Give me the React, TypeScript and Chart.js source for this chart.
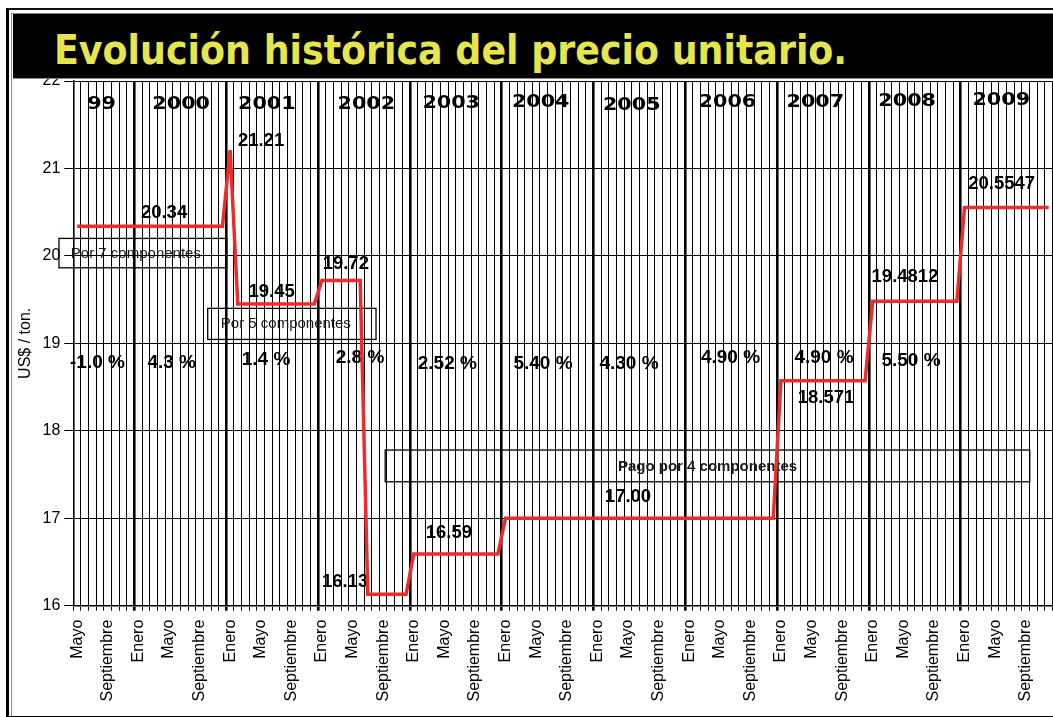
import React, { useEffect, useRef } from 'react';
import { Chart, registerables } from 'chart.js';

Chart.register(...registerables);

// ---- categories (monthly, Mayo 1999 .. Diciembre 2009) ----
const monthNames = ['Enero', 'Febrero', 'Marzo', 'Abril', 'Mayo', 'Junio', 'Julio', 'Agosto', 'Septiembre', 'Octubre', 'Noviembre', 'Diciembre'];
const years = [1999, 2000, 2001, 2002, 2003, 2004, 2005, 2006, 2007, 2008, 2009];
const firstMonthOfFirstYear = 4; // Mayo
const shownMonthLabels = ['Enero', 'Mayo', 'Septiembre'];

// ---- unit price (US$ / ton.) per month ----
const precio1999 = [20.34, 20.34, 20.34, 20.34, 20.34, 20.34, 20.34, 20.34];
const precio2000 = [20.34, 20.34, 20.34, 20.34, 20.34, 20.34, 20.34, 20.34, 20.34, 20.34, 20.34, 20.34];
const precio2001 = [21.21, 19.45, 19.45, 19.45, 19.45, 19.45, 19.45, 19.45, 19.45, 19.45, 19.45, 19.45];
const precio2002 = [19.72, 19.72, 19.72, 19.72, 19.72, 19.72, 16.13, 16.13, 16.13, 16.13, 16.13, 16.13];
const precio2003 = [16.59, 16.59, 16.59, 16.59, 16.59, 16.59, 16.59, 16.59, 16.59, 16.59, 16.59, 16.59];
const precio2004 = [17.0, 17.0, 17.0, 17.0, 17.0, 17.0, 17.0, 17.0, 17.0, 17.0, 17.0, 17.0];
const precio2005 = [17.0, 17.0, 17.0, 17.0, 17.0, 17.0, 17.0, 17.0, 17.0, 17.0, 17.0, 17.0];
const precio2006 = [17.0, 17.0, 17.0, 17.0, 17.0, 17.0, 17.0, 17.0, 17.0, 17.0, 17.0, 17.0];
const precio2007 = [18.571, 18.571, 18.571, 18.571, 18.571, 18.571, 18.571, 18.571, 18.571, 18.571, 18.571, 18.571];
const precio2008 = [19.4812, 19.4812, 19.4812, 19.4812, 19.4812, 19.4812, 19.4812, 19.4812, 19.4812, 19.4812, 19.4812, 19.4812];
const precio2009 = [20.5547, 20.5547, 20.5547, 20.5547, 20.5547, 20.5547, 20.5547, 20.5547, 20.5547, 20.5547, 20.5547, 20.5547];

// ---- y axis ----
const yMin = 16;
const yMax = 22;
const yStep = 1;
const yTitle = 'US$ / ton.';
const chartTitle = 'Evolución histórica del precio unitario.';

// ---- annotations (anchored in month index / price units) ----
const yearLabels = ['99', '2000', '2001', '2002', '2003', '2004', '2005', '2006', '2007', '2008', '2009'];
const yearLabelX = [3.2, 13.6, 24.8, 37.8, 48.9, 60.6, 72.5, 85.0, 96.5, 108.5, 120.8];
const yearLabelY = [21.73, 21.73, 21.73, 21.73, 21.74, 21.76, 21.72, 21.76, 21.76, 21.77, 21.78];

const rateLabels = ['-1.0 %', '4.3 %', '1.4 %', '2.8 %', '2.52 %', '5.40 %', '4.30 %', '4.90 %', '4.90 %', '5.50 %'];
const rateLabelX = [2.66, 12.36, 24.69, 36.98, 48.39, 60.9, 72.14, 85.41, 97.63, 109.0];
const rateLabelY = [18.78, 18.78, 18.81, 18.83, 18.77, 18.77, 18.77, 18.83, 18.83, 18.8];

const priceLabels = ['20.34', '21.21', '19.45', '19.72', '16.13', '16.59', '17.00', '18.571', '19.4812', '20.5547'];
const priceLabelX = [11.36, 24.04, 25.43, 35.12, 35.02, 48.59, 72.01, 97.89, 108.22, 120.86];
const priceLabelY = [20.486, 21.316, 19.589, 19.906, 16.274, 16.834, 17.246, 18.371, 19.761, 20.82];

const boxLabels = ['Por 7 componentes', 'Por 5 componentes', 'Pago por 4 componentes'];
const boxStartX = [-2.37, 17.07, 40.27];
const boxEndX = [19.55, 39.07, 124.53];
const boxTopY = [20.2, 19.4, 17.78];
const boxBottomY = [19.864, 19.045, 17.417];
const boxTextX = [7.68, 27.28, 82.4];
const boxTextY = [20.028, 19.22, 17.589];
const boxTextBold = [false, false, true];

// ---- tables built from the arrays ----
const categories: string[] = [];
years.forEach((yr, yi) => {
  monthNames.forEach((m, mi) => {
    if (yi === 0 && mi < firstMonthOfFirstYear) return;
    categories.push(m + ' ' + yr);
  });
});
const prices = [
  ...precio1999, ...precio2000, ...precio2001, ...precio2002, ...precio2003, ...precio2004,
  ...precio2005, ...precio2006, ...precio2007, ...precio2008, ...precio2009,
];

const FONT = "'Liberation Sans', Arial, sans-serif";

const annotationsPlugin = {
  id: 'annotations',
  beforeDatasetsDraw(chart: any) {
    const { ctx } = chart;
    const x = chart.scales.x;
    const y = chart.scales.y;
    ctx.save();
    ctx.fillStyle = '#000';
    ctx.textAlign = 'center';
    ctx.textBaseline = 'middle';

    // boxes
    ctx.strokeStyle = '#000';
    ctx.lineWidth = 1.3;
    boxLabels.forEach((t, i) => {
      const l = x.getPixelForValue(boxStartX[i]);
      const r = x.getPixelForValue(boxEndX[i]);
      const tp = y.getPixelForValue(boxTopY[i]);
      const b = y.getPixelForValue(boxBottomY[i]);
      ctx.strokeRect(l, tp, r - l, b - tp);
      ctx.font = (boxTextBold[i] ? 'bold 15px ' : '15px ') + FONT;
      ctx.fillStyle = '#1a1a1a';
      ctx.fillText(t, x.getPixelForValue(boxTextX[i]), y.getPixelForValue(boxTextY[i]));
    });

    // year labels (wide face)
    ctx.fillStyle = '#000';
    ctx.font = "bold 18px 'DejaVu Sans', sans-serif";
    yearLabels.forEach((t, i) => {
      ctx.save();
      ctx.translate(x.getPixelForValue(yearLabelX[i]), y.getPixelForValue(yearLabelY[i]));
      ctx.scale(1.15, 1);
      ctx.fillText(t, 0, 0);
      ctx.restore();
    });

    // rate labels
    ctx.font = 'bold 19px ' + FONT;
    rateLabels.forEach((t, i) => {
      ctx.fillText(t, x.getPixelForValue(rateLabelX[i]), y.getPixelForValue(rateLabelY[i]));
    });

    // price labels
    ctx.font = 'bold 18.5px ' + FONT;
    priceLabels.forEach((t, i) => {
      ctx.fillText(t, x.getPixelForValue(priceLabelX[i]), y.getPixelForValue(priceLabelY[i]));
    });
    ctx.restore();
  },
};

export default function App() {
  const canvasRef = useRef<HTMLCanvasElement | null>(null);

  useEffect(() => {
    const canvas = canvasRef.current;
    if (!canvas) return;
    const isYearStart = (i: number | undefined) =>
      typeof i === 'number' && i > 0 && categories[i] && categories[i].startsWith('Enero');

    const chart = new Chart(canvas, {
      type: 'line',
      data: {
        labels: categories,
        datasets: [
          {
            data: prices,
            borderColor: '#ee2b2b',
            borderWidth: 3.5,
            pointRadius: 0,
            tension: 0,
            fill: false,
          },
        ],
      },
      options: {
        animation: false,
        responsive: false,
        maintainAspectRatio: false,
        devicePixelRatio: 1,
        layout: { padding: { left: 0, top: 81, right: 0.5, bottom: 0 } },
        plugins: {
          legend: { display: false },
          tooltip: { enabled: false },
          title: { display: false },
        },
        scales: {
          x: {
            type: 'category',
            offset: true,
            grid: {
              offset: true,
              color: '#000',
              lineWidth: (c: any) => (isYearStart(c.index) ? 2.6 : 1),
              tickLength: 5,
            },
            border: { display: true, color: '#000', width: 1.6 },
            ticks: {
              autoSkip: false,
              minRotation: 90,
              maxRotation: 90,
              padding: 9,
              color: '#000',
              font: { family: FONT, size: 16 },
              callback: (_v: any, i: number) => {
                const name = categories[i].split(' ')[0];
                return shownMonthLabels.includes(name) ? name : '';
              },
            },
            afterFit: (s: any) => {
              s.height = 717 - 605.7;
              s.paddingLeft = 0;
              s.paddingRight = 0;
            },
          },
          y: {
            min: yMin,
            max: yMax,
            ticks: {
              stepSize: yStep,
              color: '#000',
              padding: 4,
              font: { family: FONT, size: 16 },
            },
            grid: { color: '#000', lineWidth: 1, tickLength: 9 },
            border: { display: true, color: '#000', width: 1.6 },
            title: {
              display: true,
              text: yTitle,
              color: '#000',
              font: { family: FONT, size: 16 },
              padding: { top: 16, bottom: 0 },
            },
            afterFit: (s: any) => {
              s.width = 73.3;
              s.paddingTop = 0;
              s.paddingBottom = 0;
            },
          },
        },
      } as any,
      plugins: [annotationsPlugin],
    });
    return () => chart.destroy();
  }, []);

  return (
    <div
      style={{
        position: 'absolute',
        left: 0,
        top: 0,
        width: 1053,
        height: 717,
        background: '#fff',
        overflow: 'hidden',
      }}
    >
      <canvas
        ref={canvasRef}
        width={1053}
        height={717}
        style={{ position: 'absolute', left: 0, top: 0, width: 1053, height: 717 }}
      />
      {/* outer frame */}
      <div
        style={{
          position: 'absolute',
          left: 6,
          top: 8,
          width: 1100,
          height: 706,
          borderLeft: '3px solid #000',
          borderTop: '2px solid #111',
          borderBottom: '2px solid #000',
          pointerEvents: 'none',
        }}
      />
      {/* inner thin frame */}
      <div
        style={{
          position: 'absolute',
          left: 11,
          top: 12.5,
          width: 1100,
          height: 702,
          borderLeft: '1.5px solid #8a8a8a',
          borderTop: '1px solid #8a8a8a',
          pointerEvents: 'none',
        }}
      />
      {/* title bar */}
      <div
        style={{
          position: 'absolute',
          left: 12.5,
          top: 14,
          right: 0,
          height: 63.5,
          background: '#000',
          borderBottom: '1px solid #8a8a8a',
        }}
      >
        <span
          style={{
            position: 'absolute',
            left: 41.5,
            top: 15.5,
            lineHeight: '40px',
            fontFamily: "'DejaVu Sans', sans-serif",
            fontWeight: 'bold',
            fontSize: 40,
            color: '#e6e64c',
            whiteSpace: 'nowrap',
            transform: 'scaleX(0.91)',
            transformOrigin: '0 0',
          }}
        >
          {chartTitle}
        </span>
      </div>
    </div>
  );
}
